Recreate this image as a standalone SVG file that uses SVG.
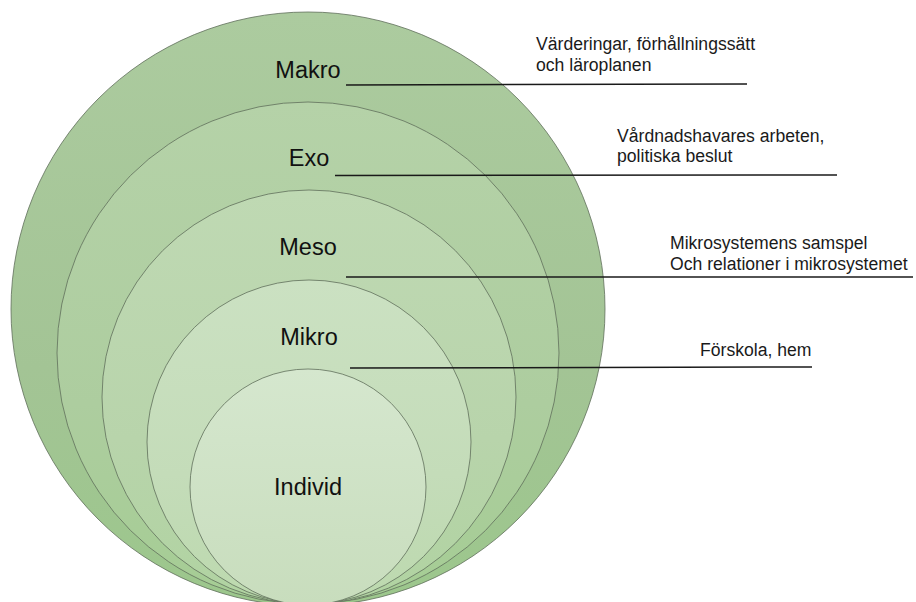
<svg xmlns="http://www.w3.org/2000/svg" width="916" height="602" viewBox="0 0 916 602">
<defs>
<linearGradient id="g1" x1="0" y1="0" x2="0" y2="1"><stop offset="0" stop-color="#accb9f"/><stop offset="0.6" stop-color="#a3c495"/><stop offset="1" stop-color="#9cc78c"/></linearGradient>
<linearGradient id="g2" x1="0" y1="0" x2="0" y2="1"><stop offset="0" stop-color="#b5d2a8"/><stop offset="0.6" stop-color="#adcd9f"/><stop offset="1" stop-color="#a5cd94"/></linearGradient>
<linearGradient id="g3" x1="0" y1="0" x2="0" y2="1"><stop offset="0" stop-color="#bfd9b3"/><stop offset="0.6" stop-color="#b8d4ab"/><stop offset="1" stop-color="#b0d3a1"/></linearGradient>
<linearGradient id="g4" x1="0" y1="0" x2="0" y2="1"><stop offset="0" stop-color="#cbe1c2"/><stop offset="0.6" stop-color="#c4dcb9"/><stop offset="1" stop-color="#bcd9ae"/></linearGradient>
<linearGradient id="g5" x1="0" y1="0" x2="0" y2="1"><stop offset="0" stop-color="#d5e7ce"/><stop offset="1" stop-color="#c8ddbd"/></linearGradient>
</defs>
<style>
.ring{stroke:#5f6e5a;stroke-width:0.8}
.lbl{font-family:"Liberation Sans",Arial,sans-serif;font-size:23.5px;fill:#111;text-anchor:middle}
.note{font-family:"Liberation Sans",Arial,sans-serif;font-size:17.6px;fill:#1a1a1a}
.lead{stroke:#1a1a1a;stroke-width:1.5;fill:none}
</style>
<rect width="916" height="602" fill="#ffffff"/>
<g id="makro">
<circle class="ring" cx="308" cy="309" r="297" fill="url(#g1)"/>
<text class="lbl" x="308" y="78">Makro</text>
</g>
<g id="exo">
<circle class="ring" cx="308" cy="353" r="251" fill="url(#g2)"/>
<text class="lbl" x="309" y="166">Exo</text>
</g>
<g id="meso">
<circle class="ring" cx="309" cy="397" r="207" fill="url(#g3)"/>
<text class="lbl" x="308" y="255">Meso</text>
</g>
<g id="mikro">
<circle class="ring" cx="309" cy="442" r="162" fill="url(#g4)"/>
<text class="lbl" x="309" y="345">Mikro</text>
</g>
<g id="individ">
<circle class="ring" cx="308" cy="487" r="118" fill="url(#g5)"/>
<text class="lbl" x="308" y="495">Individ</text>
</g>
<g id="connectors">
<line class="lead" x1="346" y1="85" x2="747" y2="84"/>
<line class="lead" x1="335" y1="175.5" x2="837" y2="175"/>
<line class="lead" x1="346" y1="277" x2="913" y2="277"/>
<line class="lead" x1="350" y1="368" x2="812" y2="367"/>
</g>
<g id="note-makro">
<text class="note" x="536" y="50">Värderingar, förhållningssätt</text>
<text class="note" x="536" y="71">och läroplanen</text>
</g>
<g id="note-exo">
<text class="note" x="617" y="142">Vårdnadshavares arbeten,</text>
<text class="note" x="617" y="162">politiska beslut</text>
</g>
<g id="note-meso">
<text class="note" x="670" y="249">Mikrosystemens samspel</text>
<text class="note" x="670" y="270">Och relationer i mikrosystemet</text>
</g>
<g id="note-mikro">
<text class="note" x="700" y="356">Förskola, hem</text>
</g>
</svg>
